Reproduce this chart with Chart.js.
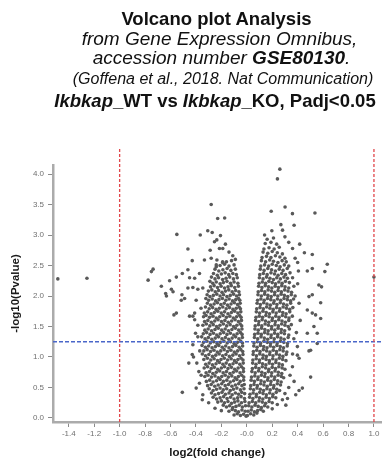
<!DOCTYPE html>
<html><head><meta charset="utf-8">
<script src="https://cdn.jsdelivr.net/npm/chart.js@4.4.1/dist/chart.umd.min.js"></script>
<style>
html,body{margin:0;padding:0;background:#fff}
body{width:383px;height:462px;position:relative;overflow:hidden;font-family:'Liberation Sans',Arial,sans-serif}
.t{position:absolute;left:0;text-align:center;line-height:1;white-space:nowrap;color:#111}
canvas{position:absolute;left:0;top:0}
</style></head><body>
<canvas id="c" width="383" height="462"></canvas>
<div class="t" style="top:7.6px;width:433px;font:bold 18.5px 'Liberation Sans',Arial,sans-serif">Volcano plot Analysis</div>
<div class="t" style="top:27.9px;width:439px;font:italic 19px 'Liberation Sans',Arial,sans-serif">from Gene Expression Omnibus,</div>
<div class="t" style="top:47.2px;width:443px;font:italic 19px 'Liberation Sans',Arial,sans-serif">accession number <b>GSE80130</b>.</div>
<div class="t" style="top:69.8px;width:446px;font:italic 16px 'Liberation Sans',Arial,sans-serif">(Goffena et al., 2018. Nat Communication)</div>
<div class="t" style="top:89.8px;width:430px;font:bold 18.5px 'Liberation Sans',Arial,sans-serif"><i>Ikbkap</i>_WT vs <i>Ikbkap</i>_KO, Padj&lt;0.05</div>
<script>
// ---- tick labels ----
const xTickValues = [-1.4,-1.2,-1.0,-0.8,-0.6,-0.4,-0.2,0,0.2,0.4,0.6,0.8,1.0];
const xTickLabels = ["-1.4","-1.2","-1.0","-0.8","-0.6","-0.4","-0.2","-0.0","0.2","0.4","0.6","0.8","1.0"];
const yTickValues = [0,0.5,1.0,1.5,2.0,2.5,3.0,3.5,4.0];
const yTickLabels = ["0.0","0.5","1.0","1.5","2.0","2.5","3.0","3.5","4.0"];
// ---- thresholds ----
const foldChangeCutoffs = [-1, 1];
const pValueCutoff = 1.25;
// ---- genes: [log2(fold change), -log10(Pvalue)] ----
const outlierGenes = [
[-1.486,2.28],[-1.257,2.29],[1.0,2.31],
[0.26,4.08],[0.241,3.92],[0.301,3.46],[0.192,3.39],[0.359,3.35],[0.536,3.36],[0.268,3.17],[0.372,3.16],[0.197,3.07],[0.281,3.08],
[0.416,2.85],[0.453,2.71],[0.515,2.68],[0.633,2.52],[0.614,2.40],[0.476,2.41],[0.515,2.45],[0.406,2.41],
[0.14,3.0],[0.3,2.97],[0.33,2.88],[0.36,2.78],[0.38,2.62],[0.4,2.55],
[0.567,2.18],[0.588,2.15],[0.515,2.02],[0.489,1.99],[0.581,1.89],[0.411,1.88],[0.476,1.77],[0.541,1.69],[0.581,1.63],[0.528,1.50],
[0.476,1.39],[0.554,1.39],[0.554,1.22],[0.489,1.10],[0.398,1.17],[0.398,1.03],[0.411,0.98],[0.359,0.84],[0.502,0.67],[0.372,0.60],
[0.437,0.49],[0.411,0.45],[0.385,0.38],[0.32,0.32],[0.307,0.21],[0.502,1.11],[0.515,1.72],
[0.38,2.0],[0.40,2.2],[0.42,1.6],[0.39,1.4],[0.37,1.3],[0.36,1.05],[0.34,0.7],[0.33,0.5],[0.3,0.4],[0.28,0.3],[0.24,0.22],[0.2,0.15],
[-0.28,3.50],[-0.229,3.27],[-0.174,3.28],[-0.307,3.07],[-0.366,3.0],[-0.207,2.99],[-0.55,3.01],[-0.272,3.04],[-0.254,2.89],[-0.236,2.92],
[-0.168,2.85],[-0.463,2.77],[-0.288,2.75],[-0.215,2.78],[-0.189,2.78],[-0.429,2.58],[-0.333,2.59],[-0.28,2.62],[-0.737,2.44],[-0.75,2.40],
[-0.776,2.26],[-0.672,2.16],[-0.607,2.25],[-0.554,2.31],[-0.507,2.37],[-0.463,2.43],[-0.372,2.37],[-0.45,2.30],[-0.41,2.29],[-0.638,2.04],
[-0.632,2.0],[-0.593,2.11],[-0.58,2.07],[-0.51,2.02],[-0.515,1.93],[-0.489,1.96],[-0.463,2.13],[-0.424,2.14],[-0.385,2.11],[-0.346,2.13],
[-0.398,1.93],[-0.554,1.72],[-0.41,1.72],[-0.19,2.56],[-0.24,2.51],[-0.11,2.66],[-0.14,2.72],[-0.09,2.6],
[-0.573,1.69],[-0.45,1.67],[-0.424,1.67],[-0.41,1.61],[-0.385,1.52],[-0.403,1.39],[-0.385,1.33],[-0.424,1.20],[-0.429,1.04],[-0.419,1.0],
[-0.456,0.90],[-0.393,0.90],[-0.507,0.42],[-0.398,0.49],[-0.372,0.57],[-0.359,0.70],[-0.377,0.76],[-0.346,0.38],
[-0.36,1.8],[-0.37,1.1],[-0.35,0.3],[-0.3,0.25],[-0.25,0.16],[-0.2,0.12]
];
const leftLobeGenes = [
[-0.005,0.03],[-0.025,0.06],[-0.05,0.04],[-0.075,0.07],[-0.1,0.05],
[-0.012,0.11],[-0.038,0.13],[-0.065,0.10],[-0.09,0.12],[-0.115,0.14],[-0.14,0.11],
[-0.01,0.2],[-0.035,0.18],[-0.06,0.21],[-0.085,0.19],[-0.11,0.17],[-0.135,0.2],[-0.16,0.18],[-0.185,0.21],
[-0.015,0.27],[-0.042,0.25],[-0.07,0.28],[-0.095,0.26],[-0.12,0.24],[-0.148,0.27],[-0.175,0.25],[-0.2,0.28],[-0.228,0.26],
[-0.018,0.32],[-0.045,0.35],[-0.072,0.33],[-0.1,0.31],[-0.128,0.34],[-0.155,0.32],[-0.182,0.35],[-0.21,0.33],[-0.238,0.31],[-0.265,0.34],
[-0.017,0.4],[-0.04,0.42],[-0.065,0.39],[-0.09,0.41],[-0.115,0.38],[-0.14,0.41],[-0.168,0.39],[-0.195,0.42],[-0.222,0.40],[-0.25,0.38],[-0.278,0.41],
[-0.022,0.48],[-0.05,0.46],[-0.078,0.49],[-0.105,0.47],[-0.13,0.45],[-0.158,0.48],[-0.185,0.46],[-0.21,0.49],[-0.238,0.47],[-0.265,0.45],[-0.295,0.48],
[-0.02,0.55],[-0.038,0.53],[-0.064,0.56],[-0.09,0.54],[-0.117,0.52],[-0.144,0.55],[-0.17,0.53],[-0.197,0.56],[-0.225,0.54],[-0.252,0.52],[-0.28,0.55],[-0.308,0.53],
[-0.025,0.62],[-0.052,0.6],[-0.078,0.63],[-0.104,0.61],[-0.13,0.59],[-0.157,0.62],[-0.184,0.6],[-0.21,0.63],[-0.238,0.61],[-0.265,0.59],[-0.292,0.62],[-0.318,0.6],
[-0.024,0.67],[-0.04,0.7],[-0.066,0.68],[-0.092,0.66],[-0.118,0.69],[-0.145,0.67],[-0.17,0.7],[-0.197,0.68],[-0.224,0.66],[-0.25,0.69],[-0.278,0.67],[-0.305,0.7],[-0.33,0.68],
[-0.026,0.76],[-0.053,0.74],[-0.08,0.77],[-0.106,0.75],[-0.133,0.73],[-0.16,0.76],[-0.186,0.74],[-0.213,0.77],[-0.24,0.75],[-0.267,0.73],[-0.293,0.76],[-0.32,0.74],
[-0.027,0.81],[-0.042,0.84],[-0.068,0.82],[-0.095,0.8],[-0.121,0.83],[-0.148,0.81],[-0.175,0.84],[-0.2,0.82],[-0.228,0.8],[-0.255,0.83],[-0.28,0.81],[-0.308,0.84],[-0.335,0.82],
[-0.028,0.9],[-0.055,0.88],[-0.082,0.91],[-0.108,0.89],[-0.135,0.87],[-0.162,0.9],[-0.188,0.88],[-0.215,0.91],[-0.242,0.89],[-0.27,0.87],[-0.296,0.9],[-0.323,0.88],
[-0.03,0.95],[-0.045,0.98],[-0.07,0.96],[-0.097,0.94],[-0.123,0.97],[-0.15,0.95],[-0.177,0.98],[-0.203,0.96],[-0.23,0.94],[-0.257,0.97],[-0.283,0.95],[-0.31,0.98],[-0.338,0.96],
[-0.03,1.04],[-0.057,1.02],[-0.084,1.05],[-0.11,1.03],[-0.137,1.01],[-0.164,1.04],[-0.19,1.02],[-0.217,1.05],[-0.244,1.03],[-0.27,1.01],[-0.298,1.04],[-0.325,1.02],[-0.35,1.05],
[-0.032,1.09],[-0.047,1.12],[-0.072,1.1],[-0.098,1.08],[-0.125,1.11],[-0.152,1.09],[-0.178,1.12],[-0.205,1.1],[-0.232,1.08],[-0.258,1.11],[-0.285,1.09],[-0.312,1.12],[-0.338,1.1],
[-0.033,1.18],[-0.06,1.16],[-0.086,1.19],[-0.112,1.17],[-0.14,1.15],[-0.166,1.18],[-0.193,1.16],[-0.22,1.19],[-0.246,1.17],[-0.273,1.15],[-0.3,1.18],[-0.326,1.16],[-0.352,1.19],
[-0.034,1.23],[-0.048,1.26],[-0.074,1.24],[-0.1,1.22],[-0.127,1.25],[-0.154,1.23],[-0.18,1.26],[-0.207,1.24],[-0.234,1.22],[-0.26,1.25],[-0.287,1.23],[-0.314,1.26],[-0.34,1.24],
[-0.035,1.32],[-0.062,1.3],[-0.088,1.33],[-0.115,1.31],[-0.142,1.29],[-0.168,1.32],[-0.195,1.3],[-0.222,1.33],[-0.248,1.31],[-0.275,1.29],[-0.302,1.32],[-0.328,1.3],[-0.355,1.33],
[-0.037,1.37],[-0.05,1.4],[-0.076,1.38],[-0.102,1.36],[-0.129,1.39],[-0.156,1.37],[-0.182,1.4],[-0.209,1.38],[-0.236,1.36],[-0.262,1.39],[-0.289,1.37],[-0.316,1.4],[-0.342,1.38],
[-0.038,1.46],[-0.064,1.44],[-0.09,1.47],[-0.117,1.45],[-0.144,1.43],[-0.17,1.46],[-0.197,1.44],[-0.224,1.47],[-0.25,1.45],[-0.277,1.43],[-0.304,1.46],[-0.33,1.44],
[-0.04,1.51],[-0.052,1.54],[-0.078,1.52],[-0.104,1.5],[-0.131,1.53],[-0.158,1.51],[-0.184,1.54],[-0.211,1.52],[-0.238,1.5],[-0.264,1.53],[-0.291,1.51],[-0.318,1.54],[-0.345,1.52],
[-0.042,1.6],[-0.066,1.58],[-0.092,1.61],[-0.119,1.59],[-0.146,1.57],[-0.172,1.6],[-0.199,1.58],[-0.226,1.61],[-0.252,1.59],[-0.279,1.57],[-0.306,1.6],[-0.332,1.58],
[-0.045,1.65],[-0.056,1.68],[-0.08,1.66],[-0.106,1.64],[-0.133,1.67],[-0.16,1.65],[-0.186,1.68],[-0.213,1.66],[-0.24,1.64],[-0.266,1.67],[-0.293,1.65],[-0.32,1.68],[-0.34,1.66],
[-0.047,1.74],[-0.07,1.72],[-0.095,1.75],[-0.121,1.73],[-0.148,1.71],[-0.175,1.74],[-0.201,1.72],[-0.228,1.75],[-0.255,1.73],[-0.281,1.71],[-0.308,1.74],[-0.334,1.72],
[-0.05,1.79],[-0.06,1.82],[-0.083,1.8],[-0.109,1.78],[-0.136,1.81],[-0.162,1.79],[-0.189,1.82],[-0.216,1.8],[-0.242,1.78],[-0.269,1.81],[-0.296,1.79],[-0.325,1.82],
[-0.052,1.88],[-0.073,1.86],[-0.098,1.89],[-0.124,1.87],[-0.151,1.85],[-0.177,1.88],[-0.204,1.86],[-0.231,1.89],[-0.257,1.87],[-0.284,1.85],[-0.31,1.88],
[-0.055,1.93],[-0.065,1.96],[-0.087,1.94],[-0.112,1.92],[-0.139,1.95],[-0.165,1.93],[-0.192,1.96],[-0.219,1.94],[-0.245,1.92],[-0.272,1.95],[-0.3,1.93],[-0.322,1.96],
[-0.058,2.02],[-0.08,2.0],[-0.104,2.03],[-0.13,2.01],[-0.156,1.99],[-0.183,2.02],[-0.21,2.0],[-0.236,2.03],[-0.263,2.01],[-0.29,1.99],[-0.312,2.02],
[-0.062,2.07],[-0.088,2.09],[-0.115,2.07],[-0.142,2.1],[-0.168,2.08],[-0.195,2.06],[-0.222,2.09],[-0.248,2.07],[-0.275,2.1],[-0.302,2.08],
[-0.066,2.16],[-0.095,2.14],[-0.122,2.17],[-0.148,2.15],[-0.175,2.13],[-0.202,2.16],[-0.23,2.14],[-0.257,2.17],[-0.285,2.15],
[-0.07,2.21],[-0.1,2.23],[-0.128,2.21],[-0.156,2.24],[-0.184,2.22],[-0.21,2.2],[-0.24,2.23],[-0.268,2.21],[-0.29,2.24],
[-0.075,2.3],[-0.105,2.28],[-0.134,2.31],[-0.163,2.29],[-0.19,2.27],[-0.222,2.3],[-0.25,2.28],[-0.278,2.31],
[-0.082,2.35],[-0.11,2.37],[-0.142,2.35],[-0.17,2.38],[-0.2,2.36],[-0.232,2.34],[-0.262,2.37],
[-0.09,2.44],[-0.125,2.42],[-0.155,2.45],[-0.188,2.43],[-0.22,2.41],[-0.25,2.44],
[-0.1,2.51],[-0.14,2.49],[-0.175,2.52],[-0.21,2.5],[-0.24,2.48],
[-0.12,2.58],[-0.16,2.56],[-0.19,2.55],[-0.235,2.59]
];
const rightLobeGenes = [
[0.005,0.04],[0.03,0.07],[0.055,0.05],[0.08,0.08],
[0.01,0.11],[0.035,0.13],[0.06,0.1],[0.085,0.12],[0.11,0.14],[0.13,0.11],
[0.015,0.2],[0.04,0.18],[0.065,0.21],[0.09,0.19],[0.115,0.17],[0.14,0.2],[0.165,0.18],
[0.018,0.25],[0.044,0.27],[0.07,0.25],[0.096,0.28],[0.122,0.26],[0.148,0.24],[0.175,0.27],[0.2,0.25],
[0.022,0.34],[0.048,0.32],[0.074,0.35],[0.1,0.33],[0.126,0.31],[0.152,0.34],[0.178,0.32],[0.204,0.35],[0.228,0.33],
[0.025,0.39],[0.05,0.41],[0.076,0.39],[0.102,0.42],[0.128,0.4],[0.154,0.38],[0.18,0.41],[0.206,0.39],[0.232,0.42],
[0.028,0.48],[0.054,0.46],[0.08,0.49],[0.106,0.47],[0.132,0.45],[0.158,0.48],[0.184,0.46],[0.21,0.49],[0.236,0.47],[0.258,0.45],
[0.031,0.53],[0.057,0.55],[0.083,0.53],[0.109,0.56],[0.135,0.54],[0.161,0.52],[0.187,0.55],[0.213,0.53],[0.24,0.56],[0.265,0.54],
[0.034,0.62],[0.06,0.6],[0.086,0.63],[0.112,0.61],[0.138,0.59],[0.164,0.62],[0.19,0.6],[0.216,0.63],[0.243,0.61],[0.27,0.59],
[0.037,0.67],[0.063,0.69],[0.089,0.67],[0.115,0.7],[0.141,0.68],[0.167,0.66],[0.193,0.69],[0.22,0.67],[0.246,0.7],[0.272,0.68],[0.29,0.66],
[0.04,0.76],[0.066,0.74],[0.092,0.77],[0.118,0.75],[0.144,0.73],[0.17,0.76],[0.196,0.74],[0.222,0.77],[0.248,0.75],[0.275,0.73],
[0.044,0.81],[0.07,0.83],[0.096,0.81],[0.122,0.84],[0.148,0.82],[0.174,0.8],[0.2,0.83],[0.226,0.81],[0.252,0.84],[0.278,0.82],[0.3,0.8],
[0.046,0.9],[0.072,0.88],[0.098,0.91],[0.124,0.89],[0.15,0.87],[0.176,0.9],[0.202,0.88],[0.228,0.91],[0.254,0.89],[0.28,0.87],
[0.048,0.95],[0.074,0.97],[0.1,0.95],[0.126,0.98],[0.152,0.96],[0.178,0.94],[0.204,0.97],[0.23,0.95],[0.256,0.98],[0.282,0.96],[0.308,0.94],
[0.05,1.04],[0.076,1.02],[0.102,1.05],[0.128,1.03],[0.154,1.01],[0.18,1.04],[0.206,1.02],[0.232,1.05],[0.258,1.03],[0.284,1.01],[0.31,1.04],
[0.052,1.09],[0.078,1.11],[0.104,1.09],[0.13,1.12],[0.156,1.1],[0.182,1.08],[0.208,1.11],[0.234,1.09],[0.26,1.12],[0.286,1.1],[0.315,1.08],
[0.055,1.18],[0.081,1.16],[0.107,1.19],[0.133,1.17],[0.159,1.15],[0.185,1.18],[0.211,1.16],[0.237,1.19],[0.263,1.17],[0.289,1.15],[0.318,1.18],
[0.057,1.23],[0.083,1.25],[0.109,1.23],[0.135,1.26],[0.161,1.24],[0.187,1.22],[0.213,1.25],[0.239,1.23],[0.265,1.26],[0.291,1.24],[0.32,1.22],
[0.06,1.32],[0.086,1.3],[0.112,1.33],[0.138,1.31],[0.164,1.29],[0.19,1.32],[0.216,1.3],[0.242,1.33],[0.268,1.31],[0.294,1.29],[0.325,1.32],
[0.062,1.37],[0.088,1.39],[0.114,1.37],[0.14,1.4],[0.166,1.38],[0.192,1.36],[0.218,1.39],[0.244,1.37],[0.27,1.4],[0.296,1.38],[0.33,1.36],
[0.064,1.46],[0.09,1.44],[0.116,1.47],[0.142,1.45],[0.168,1.43],[0.194,1.46],[0.22,1.44],[0.246,1.47],[0.272,1.45],[0.298,1.43],[0.335,1.46],
[0.066,1.51],[0.092,1.53],[0.118,1.51],[0.144,1.54],[0.17,1.52],[0.196,1.5],[0.222,1.53],[0.248,1.51],[0.274,1.54],[0.3,1.52],[0.326,1.5],[0.35,1.53],
[0.069,1.6],[0.095,1.58],[0.121,1.61],[0.147,1.59],[0.173,1.57],[0.199,1.6],[0.225,1.58],[0.251,1.61],[0.277,1.59],[0.303,1.57],[0.33,1.6],
[0.072,1.65],[0.098,1.67],[0.124,1.65],[0.15,1.68],[0.176,1.66],[0.202,1.64],[0.228,1.67],[0.254,1.65],[0.28,1.68],[0.306,1.66],[0.332,1.64],[0.358,1.67],
[0.075,1.74],[0.101,1.72],[0.127,1.75],[0.153,1.73],[0.179,1.71],[0.205,1.74],[0.231,1.72],[0.257,1.75],[0.283,1.73],[0.309,1.71],[0.338,1.74],
[0.078,1.79],[0.104,1.81],[0.13,1.79],[0.156,1.82],[0.182,1.8],[0.208,1.78],[0.234,1.81],[0.26,1.79],[0.286,1.82],[0.312,1.8],[0.338,1.78],[0.362,1.81],
[0.081,1.88],[0.107,1.86],[0.133,1.89],[0.159,1.87],[0.185,1.85],[0.211,1.88],[0.237,1.86],[0.263,1.89],[0.289,1.87],[0.315,1.85],[0.345,1.88],
[0.085,1.93],[0.111,1.95],[0.137,1.93],[0.163,1.96],[0.189,1.94],[0.215,1.92],[0.241,1.95],[0.267,1.93],[0.293,1.96],[0.319,1.94],[0.345,1.92],[0.368,1.95],
[0.088,2.02],[0.114,2.0],[0.14,2.03],[0.166,2.01],[0.192,1.99],[0.218,2.02],[0.244,2.0],[0.27,2.03],[0.296,2.01],[0.322,1.99],[0.35,2.02],
[0.09,2.07],[0.116,2.09],[0.142,2.07],[0.168,2.1],[0.194,2.08],[0.22,2.06],[0.246,2.09],[0.272,2.07],[0.298,2.1],[0.324,2.08],[0.352,2.06],
[0.093,2.16],[0.119,2.14],[0.145,2.17],[0.171,2.15],[0.197,2.13],[0.223,2.16],[0.249,2.14],[0.275,2.17],[0.301,2.15],[0.33,2.13],[0.37,2.16],
[0.096,2.21],[0.122,2.23],[0.148,2.21],[0.174,2.24],[0.2,2.22],[0.226,2.2],[0.252,2.23],[0.278,2.21],[0.304,2.24],[0.335,2.22],
[0.099,2.3],[0.128,2.28],[0.155,2.31],[0.182,2.29],[0.21,2.27],[0.236,2.3],[0.264,2.28],[0.292,2.31],[0.32,2.29],[0.36,2.3],
[0.102,2.35],[0.13,2.37],[0.16,2.35],[0.19,2.38],[0.218,2.36],[0.246,2.34],[0.275,2.37],[0.305,2.35],[0.34,2.38],
[0.106,2.44],[0.136,2.42],[0.165,2.45],[0.195,2.43],[0.225,2.41],[0.255,2.44],[0.285,2.42],[0.318,2.45],
[0.11,2.49],[0.14,2.51],[0.172,2.49],[0.2,2.52],[0.232,2.5],[0.262,2.48],[0.295,2.51],[0.33,2.49],
[0.115,2.58],[0.148,2.56],[0.18,2.59],[0.21,2.57],[0.245,2.55],[0.278,2.58],[0.31,2.56],
[0.12,2.63],[0.155,2.65],[0.19,2.63],[0.225,2.66],[0.26,2.64],[0.3,2.62],
[0.128,2.72],[0.165,2.7],[0.2,2.73],[0.24,2.71],[0.28,2.69],
[0.135,2.77],[0.175,2.79],[0.215,2.77],[0.255,2.8],
[0.145,2.86],[0.19,2.88],[0.235,2.85],
[0.16,2.93],[0.21,2.95]
];

const X_MIN = -1.524, X_MAX = 1.057, Y_MIN = -0.066, Y_MAX = 4.148, CUTOFF_LINE_TOP = 4.44;
const FONT = "'Liberation Sans', Arial, sans-serif";
const toXY = arr => arr.map(([x, y]) => ({x, y}));
const allGenes = [...leftLobeGenes, ...rightLobeGenes, ...outlierGenes];

new Chart(document.getElementById('c'), {
  type: 'scatter',
  data: {
    datasets: [
      { label: 'FC low', data: [{x: foldChangeCutoffs[0], y: Y_MIN}, {x: foldChangeCutoffs[0], y: CUTOFF_LINE_TOP}],
        showLine: true, borderColor: '#e2474b', borderWidth: 1.3, borderDash: [3, 2], pointRadius: 0, clip: false },
      { label: 'FC high', data: [{x: foldChangeCutoffs[1], y: Y_MIN}, {x: foldChangeCutoffs[1], y: CUTOFF_LINE_TOP}],
        showLine: true, borderColor: '#e2474b', borderWidth: 1.3, borderDash: [3, 2], pointRadius: 0, clip: false },
      { label: 'P cutoff', data: [{x: X_MIN, y: pValueCutoff}, {x: X_MAX, y: pValueCutoff}],
        showLine: true, borderColor: '#4a67c9', borderWidth: 1.3, borderDash: [4, 2], pointRadius: 0 },
      { label: 'genes', data: toXY(allGenes), pointRadius: 1.8, pointHoverRadius: 1.8,
        backgroundColor: '#595959', borderWidth: 0 }
    ]
  },
  options: {
    responsive: false,
    animation: false,
    devicePixelRatio: 1,
    events: [],
    layout: { padding: { top: 165, right: 0, bottom: 0, left: 0 } },
    plugins: { legend: { display: false }, tooltip: { enabled: false } },
    scales: {
      x: {
        type: 'linear', min: X_MIN, max: X_MAX,
        afterBuildTicks: s => { s.ticks = xTickValues.map(v => ({value: v})); },
        afterFit: s => { s.height = 40; s.paddingLeft = 0; s.paddingRight = 0; },
        ticks: { autoSkip: false, maxRotation: 0, padding: 2, color: '#707070',
                 font: { family: FONT, size: 8 }, callback: (v, i) => xTickLabels[i] },
        grid: { drawOnChartArea: false, drawTicks: true, tickLength: 5, color: '#8a8a8a', lineWidth: 1 },
        border: { display: true, color: '#ababab', width: 2.5 },
        title: { display: true, text: 'log2(fold change)', color: '#1a1a1a',
                 font: { family: FONT, size: 11.5, weight: 'bold' }, padding: { top: 0, bottom: 2.6 } }
      },
      y: {
        type: 'linear', min: Y_MIN, max: Y_MAX,
        afterBuildTicks: s => { s.ticks = yTickValues.map(v => ({value: v})); },
        afterFit: s => { s.width = 53; s.paddingTop = 0; s.paddingBottom = 0; },
        ticks: { autoSkip: false, padding: 4, color: '#707070',
                 font: { family: FONT, size: 8 }, callback: (v, i) => yTickLabels[i] },
        grid: { drawOnChartArea: false, drawTicks: true, tickLength: 5, color: '#8a8a8a', lineWidth: 1 },
        border: { display: true, color: '#ababab', width: 2.5 },
        title: { display: true, text: '-log10(Pvalue)', color: '#1a1a1a',
                 font: { family: FONT, size: 11.5, weight: 'bold' }, padding: { top: 9, bottom: 0 } }
      }
    }
  }
});
</script>
</body></html>
